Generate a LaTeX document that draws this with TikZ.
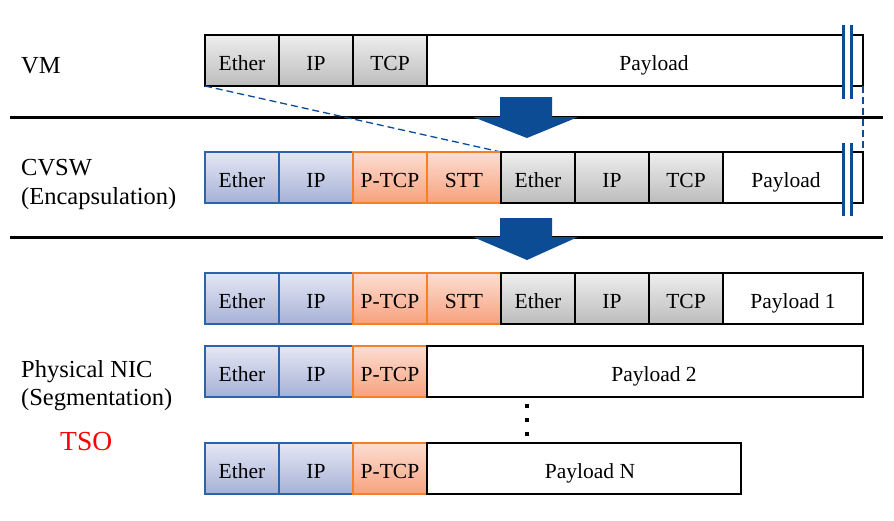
\documentclass[tikz,border=0pt]{standalone}
\usepackage{fontspec}
\setmainfont{Liberation Serif}
\definecolor{grayT}{HTML}{EEEEEE}
\definecolor{grayB}{HTML}{BCBCBC}
\definecolor{blueT}{HTML}{E4E7F4}
\definecolor{blueB}{HTML}{A6B1D6}
\definecolor{blueD}{HTML}{2A64AC}
\definecolor{oranT}{HTML}{FDDED2}
\definecolor{oranB}{HTML}{F7A17D}
\definecolor{oranD}{HTML}{F58025}
\definecolor{arrowC}{HTML}{0B4C94}
\definecolor{tsoC}{HTML}{FF0000}
\tikzset{
  fld/.style={inner sep=0pt, outer sep=0pt, minimum height=51pt, line width=1.1pt,
    font=\fontsize{21.5}{24}\selectfont, text height=20pt, text depth=0pt},
  grayfld/.style={fld, draw=black, top color=grayT, bottom color=grayB},
  bluefld/.style={fld, draw=blueD, top color=blueT, bottom color=blueB},
  oranfld/.style={fld, draw=oranD, top color=oranT, bottom color=oranB},
  whitefld/.style={fld, draw=black, fill=white},
  hdr/.style={minimum width=74pt},
  lbl/.style={anchor=base west, inner sep=0pt, font=\fontsize{24.5}{28}\selectfont},
  sepline/.style={line width=3pt, black},
  bigarrow/.style={fill=arrowC, draw=none},
  brk/.style={line width=3pt, draw=arrowC},
  guide/.style={draw=arrowC, line width=1.3pt, dash pattern=on 7pt off 4pt},
  dotmark/.style={fill=black, minimum size=4pt, inner sep=0pt, draw=none}
}
\begin{document}
\begin{tikzpicture}[x=1pt,y=-1pt]
\useasboundingbox (0,0) rectangle (894,520);

% labels
\node[lbl] (lvm) at (21,73) {VM};
\node[lbl] (lcv) at (21,175) {CVSW};
\node[lbl] (lenc) at (21,204) {(Encapsulation)};
\node[lbl] (lnic) at (21,377) {Physical NIC};
\node[lbl] (lseg) at (21,405) {(Segmentation)};
\node[anchor=base west, inner sep=0pt, font=\fontsize{27.5}{30}\selectfont, text=tsoC] (ltso) at (60,450) {TSO};

% separators
\coordinate (s1a) at (10,117); \coordinate (s1b) at (883,117);
\coordinate (s2a) at (10,237); \coordinate (s2b) at (883,237);
\draw[sepline] (s1a) -- (s1b);
\draw[sepline] (s2a) -- (s2b);

% arrows
\fill[bigarrow] (500,97) -- (552,97) -- (552,117) -- (578,117) -- (527,138) -- (473,117) -- (500,117) -- cycle;
\fill[bigarrow] (500,218) -- (552,218) -- (552,237) -- (578,237) -- (527,260) -- (473,237) -- (500,237) -- cycle;

% row 1: VM
\node[grayfld, hdr] (r1a) at (242,60.5) {Ether};
\node[grayfld, hdr] (r1b) at (316,60.5) {IP};
\node[grayfld, hdr] (r1c) at (390,60.5) {TCP};
\node[whitefld, minimum width=436pt] (r1d) at (645,60.5) {\hspace*{18pt}Payload};

% dashed guides
\draw[guide] (r1a.south west) -- (501,152);
\draw[guide, shorten >=-8pt] (r1d.south east) -- (863,152);

% row 2: CVSW
\node[bluefld, hdr] (r2a) at (242,177.5) {Ether};
\node[bluefld, hdr] (r2b) at (316,177.5) {IP};
\node[oranfld, hdr] (r2c) at (390,177.5) {P-TCP};
\node[oranfld, hdr] (r2d) at (464,177.5) {STT};
\node[grayfld, hdr] (r2e) at (538,177.5) {Ether};
\node[grayfld, hdr] (r2f) at (612,177.5) {IP};
\node[grayfld, hdr] (r2g) at (686,177.5) {TCP};
\node[whitefld, minimum width=140pt] (r2h) at (793,177.5) {Payload\hspace*{14pt}};

% row 3
\node[bluefld, hdr] (r3a) at (242,298.5) {Ether};
\node[bluefld, hdr] (r3b) at (316,298.5) {IP};
\node[oranfld, hdr] (r3c) at (390,298.5) {P-TCP};
\node[oranfld, hdr] (r3d) at (464,298.5) {STT};
\node[grayfld, hdr] (r3e) at (538,298.5) {Ether};
\node[grayfld, hdr] (r3f) at (612,298.5) {IP};
\node[grayfld, hdr] (r3g) at (686,298.5) {TCP};
\node[whitefld, minimum width=140pt] (r3h) at (793,298.5) {Payload 1};

% row 4
\node[bluefld, hdr] (r4a) at (242,371.5) {Ether};
\node[bluefld, hdr] (r4b) at (316,371.5) {IP};
\node[oranfld, hdr] (r4c) at (390,371.5) {P-TCP};
\node[whitefld, minimum width=436pt] (r4d) at (645,371.5) {\hspace*{18pt}Payload 2};

% dots
\node[dotmark] (d1) at (527,406) {};
\node[dotmark] (d2) at (527,420) {};
\node[dotmark] (d3) at (527,434) {};

% row 5
\node[bluefld, hdr] (r5a) at (242,468.5) {Ether};
\node[bluefld, hdr] (r5b) at (316,468.5) {IP};
\node[oranfld, hdr] (r5c) at (390,468.5) {P-TCP};
\node[whitefld, minimum width=314pt] (r5d) at (584,468.5) {\hspace*{12pt}Payload N};

% break marks
\fill[white] (844,34) rectangle (850,87);
\fill[white] (844,151) rectangle (850,204);
\draw[brk] (843,25) -- (843,99);
\draw[brk] (851,25) -- (851,99);
\draw[brk] (843,143) -- (843,216);
\draw[brk] (851,143) -- (851,216);
\end{tikzpicture}
\end{document}
